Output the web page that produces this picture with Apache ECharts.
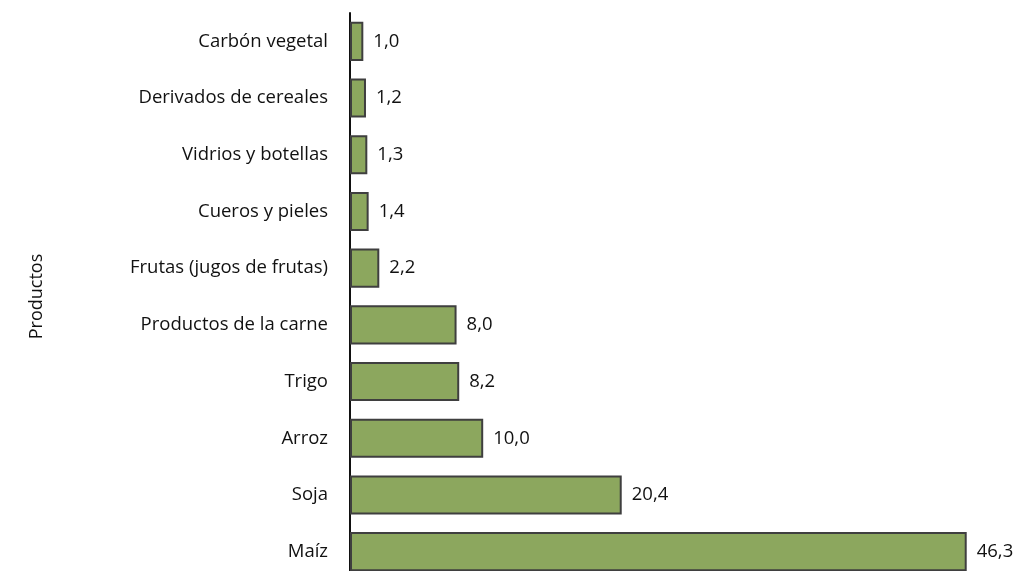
<!DOCTYPE html>
<html>
<head>
<meta charset="utf-8">
<script src="https://cdn.jsdelivr.net/npm/echarts@6/dist/echarts.min.js"></script>
<style>
html, body { margin: 0; padding: 0; background: #fff; }
#chart { width: 1021px; height: 571px; }
</style>
</head>
<body>
<div id="chart"></div>
<script>
// Products, listed from bottom to top of the axis
const productos = [
  'Maíz', 'Soja', 'Arroz', 'Trigo', 'Productos de la carne',
  'Frutas (jugos de frutas)', 'Cueros y pieles', 'Vidrios y botellas',
  'Derivados de cereales', 'Carbón vegetal'
];
const valores = [46.3, 20.4, 10.0, 8.2, 8.0, 2.2, 1.4, 1.3, 1.2, 1.0];

const chart = echarts.init(document.getElementById('chart'));
const font = '"Open Sans", sans-serif';

chart.setOption({
  animation: false,
  grid: {
    left: 350, top: 13, width: 666, height: 567,
    containLabel: false, outerBoundsMode: 'none'
  },
  xAxis: {
    type: 'value', min: 0, max: 50, show: false
  },
  yAxis: {
    type: 'category',
    data: productos,
    name: 'Productos',
    nameLocation: 'middle',
    nameRotate: 90,
    nameGap: 304,
    nameTextStyle: { fontFamily: font, fontSize: 18, color: '#111' },
    axisLine: { show: true, lineStyle: { color: '#111', width: 2 } },
    axisTick: { show: false },
    axisLabel: { fontFamily: font, fontSize: 18.5, color: '#111', margin: 22 }
  },
  series: [{
    type: 'bar',
    data: valores,
    barCategoryGap: '31%',
    itemStyle: { color: '#8ca75e', borderColor: '#3f3f3f', borderWidth: 2 },
    label: {
      show: true,
      position: 'right',
      distance: 10,
      fontFamily: font,
      fontSize: 18.5,
      color: '#111',
      formatter: p => p.value.toFixed(1).replace('.', ',')
    }
  }]
});
</script>
</body>
</html>
